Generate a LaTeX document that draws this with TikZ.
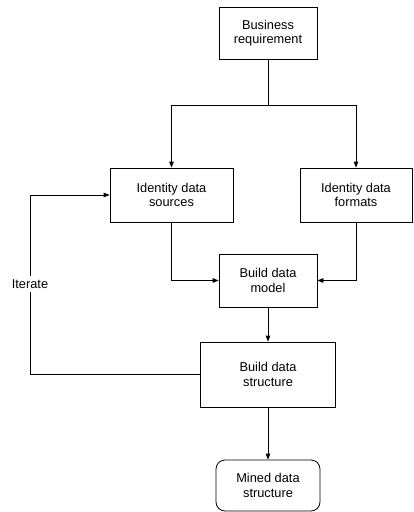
\documentclass[tikz,border=0pt]{standalone}
\usepackage{fontspec}
\setmainfont{Liberation Sans}
\usetikzlibrary{arrows.meta}

\begin{document}
\begin{tikzpicture}[x=1pt,y=-1pt,
	box/.style={draw,rectangle,align=center,inner sep=2pt,line width=0.8pt,
		font=\fontsize{12.8}{14.3}\selectfont},
	rbox/.style={box,rounded corners=9pt},
	arr/.style={-{Triangle[length=6pt,width=4.5pt]},line width=0.8pt},
	line/.style={line width=0.8pt}]
				\useasboundingbox (0,0) rectangle (414,512);
				\node [box, minimum width=98pt, minimum height=52pt] (req) at (268, 33) {Business\\requirement};
				\node [box, minimum width=123pt, minimum height=54pt] (src) at (171.5, 195) {Identity data\\sources};
				\node [box, minimum width=112pt, minimum height=54pt] (fmt) at (356, 195) {Identity data\\formats};
				\node [box, minimum width=98pt, minimum height=53pt] (model) at (268, 280.5) {Build data\\model};
				\node [box, minimum width=135pt, minimum height=65pt] (struct) at (268, 374.5) {Build data\\structure};
				\node [rbox, minimum width=104pt, minimum height=51pt] (mined) at (268, 485.5) {Mined data\\structure};
				\node [font=\fontsize{12.8}{14}\selectfont] (iter) at (30, 284) {Iterate};
				\coordinate (split) at (268, 105);
				\coordinate (back) at (30, 374);
				\draw [line] (req.south) -- (split);
				\draw [arr] (split) -| (src.north);
				\draw [arr] (split) -| (fmt.north);
				\draw [arr] (src.south) |- (model.west);
				\draw [arr] (fmt.south) |- (model.east);
				\draw [arr] (model.south) -- (struct.north);
				\draw [arr] (struct.south) -- (mined.north);
				\draw [line] (struct.west |- back) -- (back) -- (iter.south);
				\draw [arr] (iter.north) |- (src.west);
			\end{tikzpicture}
\end{document}
